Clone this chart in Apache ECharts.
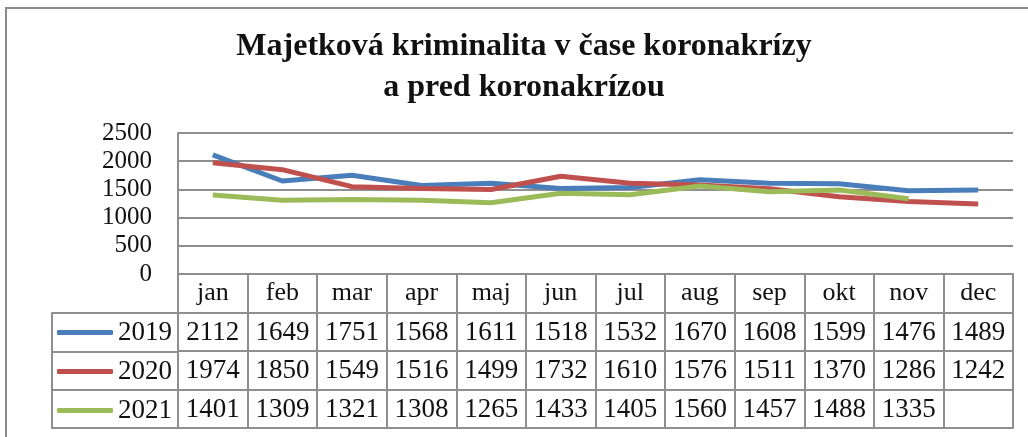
<!DOCTYPE html>
<html>
<head>
<meta charset="utf-8">
<script src="https://cdn.jsdelivr.net/npm/echarts@6/dist/echarts.min.js"></script>
<style>
  html, body { margin: 0; padding: 0; background: #fff; }
  #chart { width: 1028px; height: 437px; }
</style>
</head>
<body>
<div id="chart"></div>
<script>
// data
const months = ['jan', 'feb', 'mar', 'apr', 'maj', 'jun', 'jul', 'aug', 'sep', 'okt', 'nov', 'dec'];
const years = ['2019', '2020', '2021'];
const values2019 = [2112, 1649, 1751, 1568, 1611, 1518, 1532, 1670, 1608, 1599, 1476, 1489];
const values2020 = [1974, 1850, 1549, 1516, 1499, 1732, 1610, 1576, 1511, 1370, 1286, 1242];
const values2021 = [1401, 1309, 1321, 1308, 1265, 1433, 1405, 1560, 1457, 1488, 1335, null];
const yMin = 0, yMax = 2500, yStep = 500;

const serif = "'Liberation Serif', 'Times New Roman', serif";
const gridColor = '#8e8e8e';
const colors = ['#4a7ebb', '#c0504d', '#9bbb59'];
const rowH = 38.5;

const chart = echarts.init(document.getElementById('chart'));

const asText = arr => arr.map(v => (v == null ? '' : String(v)));
const rows = [values2019, values2020, values2021];

// one extra category axis per table row, stacked under the plot
const rowAxes = rows.map((vals, i) => ({
  type: 'category',
  gridIndex: 0,
  position: 'bottom',
  offset: Math.round(rowH * (i + 1)),
  data: asText(vals),
  axisLine: { show: true, lineStyle: { color: gridColor, width: 2 } },
  axisTick: { show: false },
  axisLabel: { interval: 0, margin: 6, color: '#111', fontFamily: serif, fontSize: 27 }
}));

const option = {
  animation: false,
  title: {
    text: 'Majetková kriminalita v čase koronakrízy\na pred koronakrízou',
    left: 524,
    top: 26,
    textAlign: 'center',
    padding: 0,
    textStyle: { fontFamily: serif, fontWeight: 'bold', fontSize: 32, lineHeight: 41, color: '#111' }
  },
  legend: {
    orient: 'vertical',
    left: 57,
    top: 319,
    padding: 0,
    itemWidth: 56,
    itemHeight: 5,
    itemGap: 12,
    icon: 'roundRect',
    data: years,
    textStyle: { fontFamily: serif, fontSize: 27, color: '#111' }
  },
  graphic: [{
    type: 'rect',
    shape: { x: 6, y: 8, width: 1040, height: 450 },
    style: { fill: null, stroke: '#8a8a8a', lineWidth: 2 },
    silent: true
  }],
  grid: [
    { left: 178, top: 133, width: 835, height: 141 },
    { left: 52, top: 313, width: 126, height: 115 }
  ],
  xAxis: [
    {
      type: 'category',
      gridIndex: 0,
      data: months,
      axisLine: { show: true, lineStyle: { color: gridColor, width: 2 } },
      axisTick: { show: true, interval: 0, length: 154, lineStyle: { color: gridColor, width: 2 } },
      axisLabel: { interval: 0, margin: 6, color: '#111', fontFamily: serif, fontSize: 26 }
    },
    ...rowAxes,
    {
      type: 'category',
      gridIndex: 0,
      position: 'bottom',
      offset: 154,
      data: months,
      axisLine: { show: true, lineStyle: { color: gridColor, width: 2 } },
      axisTick: { show: false },
      axisLabel: { show: false }
    },
    { type: 'value', gridIndex: 1, show: false }
  ],
  yAxis: [
    {
      type: 'value',
      gridIndex: 0,
      min: yMin,
      max: yMax,
      interval: yStep,
      axisLine: { show: true, lineStyle: { color: gridColor, width: 2 } },
      axisTick: { show: false },
      splitLine: { lineStyle: { color: gridColor, width: 2 } },
      axisLabel: { margin: 26, color: '#111', fontFamily: serif, fontSize: 25, formatter: v => String(v) }
    },
    {
      type: 'category',
      gridIndex: 1,
      inverse: true,
      data: years,
      axisLine: { show: true, lineStyle: { color: gridColor, width: 2 } },
      axisTick: { show: false },
      axisLabel: { show: false },
      splitLine: { show: true, interval: 0, lineStyle: { color: gridColor, width: 2 } }
    }
  ],
  series: years.map((y, i) => ({
    name: y,
    type: 'line',
    xAxisIndex: 0,
    yAxisIndex: 0,
    data: rows[i],
    symbol: 'none',
    lineStyle: { width: 5, color: colors[i] },
    itemStyle: { color: colors[i] }
  }))
};

chart.setOption(option);
</script>
</body>
</html>
